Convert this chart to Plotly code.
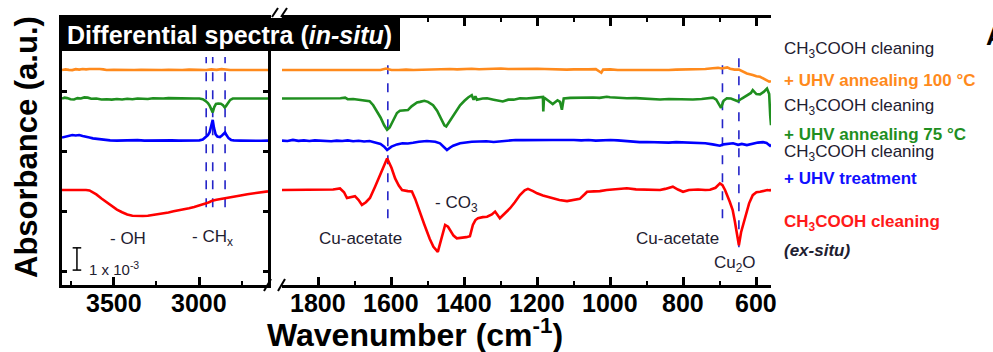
import plotly.graph_objects as go

# ---------------- data (absorbance in units of 1e-3, relative to each trace baseline) -------------
# Left panel (high wavenumber region)
red_L_wn = [3800, 3740, 3700, 3660, 3640, 3620, 3600, 3570, 3540, 3510, 3480, 3450, 3420, 3390, 3360,
            3330, 3300, 3270, 3240, 3210, 3180, 3150, 3120, 3090, 3060, 3030, 3000, 2980, 2960, 2940,
            2925, 2900, 2875, 2850, 2825, 2800, 2760, 2720, 2680, 2640, 2600]
red_L_val = [0.00, 0.01, 0.02, 0.00, -0.02, -0.10, -0.20, -0.38, -0.55, -0.72, -0.88, -1.00, -1.10, -1.16,
             -1.18, -1.17, -1.16, -1.13, -1.09, -1.05, -1.01, -0.96, -0.92, -0.87, -0.82, -0.76, -0.70,
             -0.66, -0.60, -0.54, -0.48, -0.44, -0.40, -0.36, -0.33, -0.30, -0.25, -0.19, -0.14, -0.09, -0.06]

blue_L_wn = [3800, 3780, 3760, 3740, 3720, 3700, 3680, 3660, 3640, 3620, 3600, 3580, 3550, 3520, 3480,
             3440, 3400, 3360, 3320, 3280, 3240, 3200, 3160, 3120, 3080, 3040, 3000, 2980, 2965, 2950,
             2940, 2930, 2922, 2915, 2905, 2895, 2880, 2868, 2858, 2850, 2842, 2830, 2815, 2800, 2760,
             2720, 2680, 2640, 2600]
blue_L_val = [0.11, 0.15, 0.21, 0.22, 0.20, 0.22, 0.18, 0.13, 0.11, 0.07, 0.05, 0.02, 0.00, -0.02, -0.03,
              -0.02, -0.03, -0.01, -0.03, -0.02, -0.01, -0.03, -0.02, -0.03, -0.02, -0.01, -0.02, 0.02,
              0.10, 0.22, 0.35, 0.60, 0.90, 0.55, 0.25, 0.15, 0.13, 0.20, 0.30, 0.34, 0.22, 0.08, 0.00,
              -0.02, -0.03, -0.04, -0.03, -0.04, -0.03]

green_L_wn = [3800, 3785, 3770, 3750, 3730, 3710, 3690, 3670, 3650, 3630, 3600, 3570, 3540, 3510, 3480,
              3450, 3420, 3390, 3360, 3330, 3300, 3270, 3240, 3210, 3180, 3150, 3120, 3090, 3060, 3030,
              3000, 2980, 2965, 2950, 2940, 2930, 2922, 2913, 2903, 2890, 2875, 2862, 2852, 2845, 2835,
              2820, 2805, 2780, 2740, 2700, 2660, 2630, 2600]
green_L_val = [0.00, 0.04, 0.02, -0.03, -0.04, 0.02, 0.00, 0.05, 0.04, -0.01, 0.00, -0.04, -0.03, -0.05,
               -0.02, -0.04, -0.01, -0.03, 0.00, -0.02, -0.02, 0.01, -0.01, 0.00, 0.02, 0.01, 0.00, -0.01,
               0.01, 0.00, 0.00, -0.03, -0.10, -0.20, -0.32, -0.48, -0.62, -0.38, -0.24, -0.22, -0.23,
               -0.30, -0.40, -0.34, -0.20, -0.06, 0.00, 0.01, 0.00, 0.00, -0.01, 0.00, 0.00]

orange_L_wn = [3800, 3780, 3760, 3740, 3720, 3700, 3680, 3660, 3640, 3620, 3600, 3580, 3560, 3540, 3500,
               3460, 3420, 3380, 3340, 3300, 3260, 3220, 3180, 3140, 3100, 3060, 3020, 2990, 2960, 2930,
               2900, 2870, 2850, 2820, 2780, 2740, 2700, 2650, 2600]
orange_L_val = [0.00, 0.03, 0.01, 0.00, 0.04, 0.02, 0.05, 0.03, 0.05, 0.06, 0.04, 0.05, 0.03, 0.00, 0.01,
                0.00, -0.01, 0.00, 0.01, 0.00, -0.01, 0.00, 0.01, 0.00, 0.00, 0.02, 0.00, 0.01, 0.00, 0.03,
                0.01, 0.04, 0.02, 0.00, 0.00, 0.00, 0.00, 0.00, 0.00]

# Right panel (fingerprint region)
red_R_wn = [1900, 1880, 1860, 1840, 1820, 1800, 1780, 1760, 1741, 1730, 1722, 1710, 1700, 1690, 1681,
            1670, 1659, 1645, 1632, 1620, 1612, 1600, 1590, 1580, 1571, 1555, 1544, 1535, 1522, 1510,
            1495, 1485, 1473, 1463, 1453, 1445, 1440, 1430, 1421, 1405, 1395, 1385, 1377, 1370, 1363,
            1350, 1338, 1325, 1316, 1303, 1290, 1275, 1262, 1248, 1235, 1226, 1212, 1201, 1185, 1170,
            1158, 1140, 1119, 1100, 1084, 1070, 1064, 1045, 1029, 1010, 990, 970, 955, 930, 900, 880,
            864, 850, 838, 829, 815, 801, 785, 760, 740, 727, 712, 700, 693, 686, 673, 665, 659, 653,
            648, 642, 632, 620, 610, 600, 590, 580, 570, 563, 560]
red_R_val = [0.00, 0.00, 0.02, 0.00, 0.01, 0.00, 0.00, 0.02, 0.07, -0.10, -0.36, -0.30, -0.28, -0.45, -0.67,
             -0.55, -0.36, 0.15, 0.67, 1.15, 1.42, 1.00, 0.52, 0.20, 0.00, -0.05, -0.07, -0.40, -0.95,
             -1.55, -2.20, -2.55, -2.78, -2.20, -1.57, -1.65, -1.80, -2.05, -2.17, -2.15, -2.12, -2.08,
             -1.57, -1.35, -1.27, -1.22, -1.20, -1.10, -0.97, -1.27, -1.05, -0.82, -0.55, -0.23, -0.02,
             0.05, -0.05, -0.15, -0.25, -0.32, -0.37, -0.45, -0.50, -0.46, -0.40, -0.18, -0.08, -0.06,
             -0.05, 0.00, 0.02, 0.05, 0.08, 0.03, 0.02, 0.03, 0.00, 0.05, 0.10, 0.15, 0.02, -0.08, 0.00,
             0.02, 0.00, 0.01, 0.10, 0.30, 0.22, 0.00, -0.53, -0.90, -1.42, -2.00, -2.48, -1.90, -1.27,
             -0.60, -0.23, -0.10, -0.08, -0.05, 0.00, -0.02, 0.03]

blue_R_wn = [1900, 1885, 1870, 1855, 1840, 1825, 1810, 1795, 1780, 1765, 1750, 1735, 1720, 1705, 1690,
             1675, 1660, 1645, 1630, 1620, 1612, 1600, 1585, 1570, 1555, 1541, 1525, 1503, 1490, 1480,
             1467, 1455, 1448, 1440, 1431, 1412, 1395, 1380, 1360, 1340, 1320, 1300, 1280, 1260, 1240,
             1220, 1200, 1180, 1160, 1140, 1120, 1100, 1080, 1060, 1040, 1020, 1000, 980, 960, 940, 920,
             900, 880, 860, 840, 820, 800, 780, 760, 740, 720, 700, 690, 680, 664, 650, 640, 626, 610,
             596, 582, 572, 563, 560]
blue_R_val = [-0.03, -0.05, 0.00, -0.04, -0.02, -0.05, -0.02, -0.04, -0.03, -0.06, -0.03, -0.05, -0.02,
              -0.06, -0.04, -0.07, -0.05, -0.10, -0.18, -0.30, -0.45, -0.30, -0.20, -0.15, -0.16, -0.13,
              -0.08, -0.05, -0.05, -0.08, -0.15, -0.35, -0.45, -0.35, -0.26, -0.15, -0.10, -0.08, -0.07,
              -0.06, -0.09, -0.06, -0.03, 0.00, -0.01, 0.00, 0.01, -0.01, 0.00, 0.00, 0.01, 0.00, -0.02,
              0.00, -0.03, -0.01, 0.00, -0.02, -0.05, -0.07, -0.10, -0.09, -0.11, -0.10, -0.12, -0.10,
              -0.11, -0.13, -0.12, -0.15, -0.20, -0.26, -0.20, -0.17, -0.15, -0.22, -0.18, -0.23, -0.17,
              -0.12, -0.10, -0.14, -0.26, -0.20]

green_R_wn = [1900, 1880, 1860, 1840, 1820, 1800, 1780, 1760, 1740, 1727, 1720, 1705, 1690, 1675, 1660,
              1650, 1640, 1630, 1620, 1612, 1605, 1595, 1585, 1577, 1565, 1555, 1545, 1530, 1522, 1510,
              1500, 1486, 1475, 1465, 1455, 1450, 1440, 1431, 1420, 1412, 1400, 1390, 1380, 1375, 1370,
              1366, 1350, 1338, 1320, 1295, 1280, 1265, 1248, 1230, 1210, 1195, 1185, 1184, 1182, 1170,
              1158, 1145, 1138, 1133, 1128, 1110, 1092, 1070, 1048, 1030, 1010, 1001, 980, 955, 930, 900,
              880, 864, 840, 820, 800, 774, 750, 730, 719, 710, 697, 690, 681, 670, 660, 651, 640, 626,
              615, 610, 600, 590, 580, 571, 565, 562, 560]
green_R_val = [0.00, 0.00, 0.01, -0.01, 0.00, 0.00, 0.00, 0.00, 0.01, 0.04, -0.03, -0.02, -0.05, -0.08,
               -0.12, -0.30, -0.55, -0.85, -1.20, -1.40, -1.30, -0.95, -0.65, -0.55, -0.55, -0.52, -0.35,
               -0.18, -0.15, -0.10, -0.15, -0.30, -0.55, -0.90, -1.20, -1.25, -1.00, -0.80, -0.55, -0.30,
               -0.10, 0.05, 0.15, -0.05, 0.10, -0.05, 0.00, 0.01, -0.05, -0.13, -0.05, -0.05, 0.01, 0.00,
               0.03, 0.05, 0.07, -0.58, 0.05, -0.10, -0.25, -0.08, -0.15, -0.50, 0.00, 0.03, 0.04, 0.02,
               0.05, 0.03, 0.08, 0.06, 0.04, 0.01, 0.02, 0.00, -0.03, -0.04, -0.02, -0.03, -0.04, -0.04,
               -0.02, 0.02, 0.04, -0.05, -0.42, -0.10, 0.01, 0.00, -0.05, -0.12, 0.00, 0.12, 0.25, 0.38,
               0.20, 0.19, 0.30, 0.45, 0.20, -0.80, -1.20]

orange_R_wn = [1900, 1880, 1850, 1820, 1800, 1780, 1750, 1720, 1690, 1660, 1630, 1615, 1608, 1600, 1580,
               1560, 1540, 1520, 1500, 1480, 1460, 1440, 1420, 1400, 1380, 1360, 1340, 1320, 1300, 1280,
               1260, 1240, 1220, 1200, 1180, 1160, 1140, 1120, 1100, 1080, 1060, 1040, 1025, 1020, 1000,
               980, 960, 940, 920, 900, 880, 860, 840, 820, 800, 780, 760, 740, 720, 705, 695, 680, 672,
               660, 648, 635, 626, 610, 600, 590, 580, 572, 565, 560]
orange_R_val = [0.00, 0.00, 0.00, 0.00, 0.00, 0.00, 0.00, 0.00, 0.00, 0.00, 0.00, 0.07, 0.03, 0.00, 0.00,
                0.02, 0.00, 0.01, 0.03, 0.04, 0.03, 0.05, 0.03, 0.05, 0.06, 0.04, 0.06, 0.05, 0.07, 0.05,
                0.06, 0.04, 0.05, 0.06, 0.05, 0.03, 0.04, 0.02, 0.03, 0.02, 0.03, 0.04, -0.12, 0.02, 0.03,
                0.00, 0.00, -0.02, -0.03, -0.03, -0.01, -0.02, 0.00, 0.02, 0.02, 0.04, 0.05, 0.05, 0.08,
                0.10, 0.07, 0.12, 0.06, 0.02, 0.02, -0.08, -0.15, -0.22, -0.28, -0.30, -0.38, -0.45, -0.52,
                -0.50]

# tick labels
left_ticks = [3500, 3000]
right_ticks = [1800, 1600, 1400, 1200, 1000, 800, 600]

# vertical stacking offsets (units of 1e-3)
offsets = {"orange": 9.66, "green": 8.38, "blue": 6.52, "red": 4.27}
colors = {"orange": "#ff8a1c", "green": "#1f8f1f", "blue": "#0000ff", "red": "#ff0000"}

# marked band positions (cm-1)
ch_lines = [2960, 2922, 2850]
acetate_lines = [1610, 693, 648]
scale_bar = 1.0  # 1 x 10^-3

series = {
    "orange": (orange_L_wn, orange_L_val, orange_R_wn, orange_R_val),
    "green": (green_L_wn, green_L_val, green_R_wn, green_R_val),
    "blue": (blue_L_wn, blue_L_val, blue_R_wn, blue_R_val),
    "red": (red_L_wn, red_L_val, red_R_wn, red_R_val),
}

# ---------------- figure ----------------
W, H = 993, 352
ML, MR, MT, MB = 62, 222, 18, 67
PW, PH = W - ML - MR, H - MT - MB


def px(x):
    return (x - ML) / PW


def py(y):
    return (H - MB - y) / PH


fig = go.Figure()
for name, (lw, lv, rw, rv) in series.items():
    off = offsets[name]
    fig.add_trace(go.Scatter(x=lw, y=[v + off for v in lv], xaxis="x", yaxis="y", mode="lines",
                             line=dict(color=colors[name], width=2.6), showlegend=False, hoverinfo="skip"))
    fig.add_trace(go.Scatter(x=rw, y=[v + off for v in rv], xaxis="x2", yaxis="y", mode="lines",
                             line=dict(color=colors[name], width=2.6), showlegend=False, hoverinfo="skip"))

FONT = "Arial, Liberation Sans, sans-serif"
DARK = "#1e2030"
LINE_BLUE = "#2424c8"

shapes = []
# dashed band markers
for wn in ch_lines:
    shapes.append(dict(type="line", xref="x", yref="y", x0=wn, x1=wn, y0=3.5, y1=10.25,
                       line=dict(color=LINE_BLUE, width=1.6, dash="dash"), layer="below"))
for wn, ybot in zip(acetate_lines, [3.0, 3.0, 1.7]):
    shapes.append(dict(type="line", xref="x2", yref="y", x0=wn, x1=wn, y0=ybot, y1=10.25,
                       line=dict(color=LINE_BLUE, width=1.6, dash="dash"), layer="below"))
# scale bar
sb_x, sb_y0 = 3713, 0.67
shapes += [
    dict(type="line", xref="x", yref="y", x0=sb_x, x1=sb_x, y0=sb_y0, y1=sb_y0 + scale_bar,
         line=dict(color="black", width=1.5)),
    dict(type="line", xref="x", yref="y", x0=sb_x + 25, x1=sb_x - 25, y0=sb_y0, y1=sb_y0,
         line=dict(color="black", width=1.5)),
    dict(type="line", xref="x", yref="y", x0=sb_x + 25, x1=sb_x - 25, y0=sb_y0 + scale_bar,
         y1=sb_y0 + scale_bar, line=dict(color="black", width=1.5)),
]
# title box
shapes.append(dict(type="rect", xref="paper", yref="paper", x0=0, x1=px(400), y0=py(51), y1=1,
                   fillcolor="black", line=dict(width=0)))
# axis break marks
for (x0, y0, x1, y1) in [(264, 291, 271, 279), (278, 291, 285, 279), (272, 17, 278, 8), (281, 17, 287, 8)]:
    shapes.append(dict(type="line", xref="paper", yref="paper", x0=px(x0), y0=py(y0), x1=px(x1), y1=py(y1),
                       line=dict(color="black", width=2)))


def ann(text, x, y, size=17, color=DARK, xanchor="center", yanchor="middle", angle=0, **kw):
    return dict(text=text, x=px(x), y=py(y), xref="paper", yref="paper", showarrow=False,
                xanchor=xanchor, yanchor=yanchor, textangle=angle,
                font=dict(family=FONT, size=size, color=color, **kw))


annotations = [
    ann("Differential spectra (<i>in-situ</i>)", 65, 35, size=25, color="white", xanchor="left", weight="bold"),
    ann("- OH", 128, 238),
    ann("- CH<sub>x</sub>", 212, 238),
    ann("Cu-acetate", 360, 238),
    ann("- CO<sub>3</sub>", 456, 204),
    ann("Cu-acetate", 677, 238),
    ann("Cu<sub>2</sub>O", 735, 264),
    ann("1 x 10<sup>-3</sup>", 87, 268, size=15, xanchor="left"),
    # right side labels
    ann("CH<sub>3</sub>COOH cleaning", 782, 50, size=17, xanchor="left"),
    ann("+ UHV annealing 100 °C", 782, 80, size=17, color=colors["orange"], xanchor="left", weight="bold"),
    ann("CH<sub>3</sub>COOH cleaning", 782, 107, size=17, xanchor="left"),
    ann("+ UHV annealing 75 °C", 782, 134, size=17, color=colors["green"], xanchor="left", weight="bold"),
    ann("CH<sub>3</sub>COOH cleaning", 782, 153, size=17, xanchor="left"),
    ann("+ UHV treatment", 782, 178, size=17, color="#1010ff", xanchor="left", weight="bold"),
    ann("CH<sub>3</sub>COOH cleaning", 782, 223, size=17, color="#ff1a1a", xanchor="left", weight="bold"),
    ann("<i>(ex-situ)</i>", 782, 250, size=17, xanchor="left", weight="bold"),
    ann("A", 984, 36, size=26, color="black", xanchor="left", weight="bold"),
    # axis titles
    ann("Absorbance (a.u.)", 26, 147, size=31, color="black", angle=-90, weight="bold"),
    ann("Wavenumber (cm<sup>-1</sup>)", 415, 333, size=32, color="black", weight="bold"),
]

# tick labels placed as annotations on the data axes (x) just below the axis line
TICK_Y = py(303)
for axref, tvals in (("x", left_ticks), ("x2", right_ticks)):
    for t in tvals:
        annotations.append(dict(text=str(t), x=t, xref=axref, y=TICK_Y, yref="paper", showarrow=False,
                                xanchor="center", yanchor="middle",
                                font=dict(family=FONT, size=25, color="black", weight="bold")))

axis_common = dict(showline=True, linecolor="black", linewidth=2.5, mirror="ticks", ticks="inside",
                   ticklen=8, tickwidth=2.5, tickcolor="black", showgrid=False, zeroline=False,
                   showticklabels=False)

fig.update_layout(
    width=W, height=H, margin=dict(l=ML, r=MR, t=MT, b=MB),
    paper_bgcolor="white", plot_bgcolor="white", showlegend=False,
    xaxis=dict(domain=[0, px(268)], range=[3800, 2600], anchor="y", tickvals=left_ticks,
               minor=dict(tickvals=[3750, 3250, 2750], ticks="inside", ticklen=4, tickwidth=2,
                          tickcolor="black", showgrid=False),
               **axis_common),
    xaxis2=dict(domain=[px(282), 1], range=[1900, 560], anchor="y", tickvals=right_ticks,
                minor=dict(tickvals=[1700, 1500, 1300, 1100, 900, 700], ticks="inside", ticklen=4,
                           tickwidth=2, tickcolor="black", showgrid=False),
                **axis_common),
    yaxis=dict(domain=[0, 1], range=[0, 12], anchor="x", showticklabels=False, showline=True,
               linecolor="black", linewidth=2.5, mirror="ticks", ticks="inside", ticklen=5, tickwidth=2.5,
               tickcolor="black", showgrid=False, zeroline=False, tickvals=[0.6, 3.3, 6.0, 8.7, 11.4]),
    shapes=shapes, annotations=annotations,
)

fig.write_html("out.html", config={"displayModeBar": False},
               post_script="document.body.style.margin='0px';document.body.style.overflow='hidden';")
